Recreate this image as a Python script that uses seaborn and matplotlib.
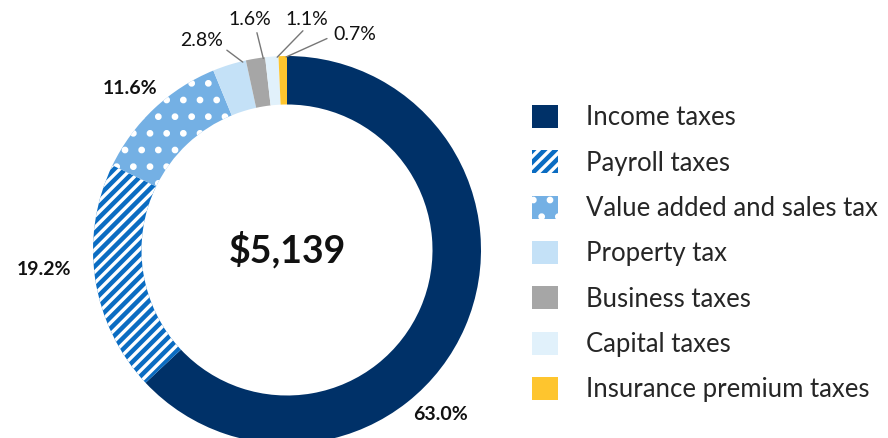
import numpy as np
import matplotlib
matplotlib.use("Agg")
import matplotlib.pyplot as plt
import seaborn as sns

# Data
categories = ["Income taxes", "Payroll taxes", "Value added and sales tax",
              "Property tax", "Business taxes", "Capital taxes",
              "Insurance premium taxes"]
shares = [63.0, 19.2, 11.6, 2.8, 1.6, 1.1, 0.7]
total_label = "$5,139"

colors = ["#003168", "#0a6cc2", "#74b0e4", "#c4e1f7", "#a6a6a6", "#e1f1fb", "#fec52e"]
hatches = ["", "///", ".", "", "", "", ""]

sns.set_style("white")
plt.rcParams["font.family"] = ["Lato", "DejaVu Sans"]
plt.rcParams["hatch.linewidth"] = 2.4

fig = plt.figure(figsize=(8.88, 4.38), dpi=100)
# donut centre at (287, 250) px, outer radius 194 px
cx, cy, r = 287, 438 - 250, 194
ax = fig.add_axes([(cx - r) / 888, (cy - r) / 438, 2 * r / 888, 2 * r / 438])

wedges, _ = ax.pie(shares, colors=colors, startangle=90, counterclock=False,
                   radius=1.0, wedgeprops=dict(width=0.25, linewidth=0, edgecolor="white"))
for w, h in zip(wedges, hatches):
    if h:
        w.set_hatch(h)
ax.set_xlim(-1, 1)
ax.set_ylim(-1, 1)
ax.set_aspect("equal")
ax.axis("off")

ax.text(0, 0.0, total_label, ha="center", va="center", fontsize=27, fontweight="bold", color="#111111")

# percentage labels (positions in data units)
label_pos = [(0.79, -0.85), (-1.25, -0.10), (-0.81, 0.83), (-0.44, 1.08),
             (-0.19, 1.19), (0.10, 1.19), (0.35, 1.11)]
leader = [False, False, False, True, True, True, True]
line_end = [None, None, None, (-0.31, 1.03), (-0.155, 1.12), (0.082, 1.13), (0.206, 1.09)]
for i, (w, s) in enumerate(zip(wedges, shares)):
    x, y = label_pos[i]
    ax.text(x, y, f"{s:.1f}%", ha="center", va="center", fontsize=14,
            fontweight="bold" if not leader[i] else "normal", color="#111111",
            clip_on=False)
    if leader[i]:
        ang = np.deg2rad(w.theta1 + 0.1 * (w.theta2 - w.theta1))
        ex, ey = line_end[i]
        ax.plot([np.cos(ang) * 0.995, ex], [np.sin(ang) * 0.995, ey], color="#777777",
                lw=1.0, clip_on=False)

fig.legend(wedges, categories, loc="upper left", bbox_to_anchor=(532 / 888, 1 - 105 / 438),
           frameon=False, fontsize=18.5, handlelength=1.0, handleheight=1.0,
           labelspacing=0.78, handletextpad=1.1, borderaxespad=0, borderpad=0)

fig.savefig("out.png", dpi=100)
